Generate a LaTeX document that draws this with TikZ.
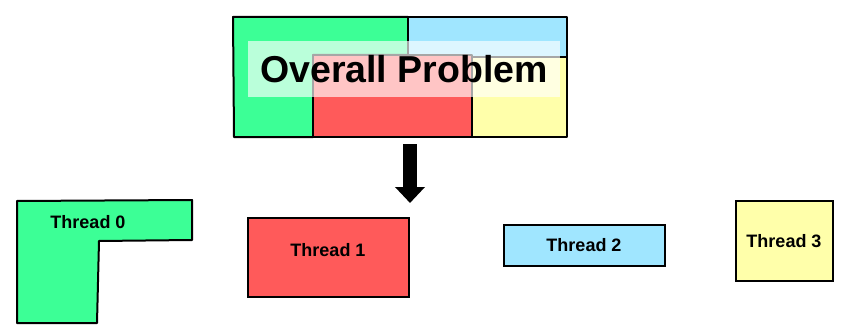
\documentclass[tikz,border=0pt]{standalone}
\usepackage{fontspec}
\setmainfont{Liberation Sans}
\usepackage{tikz}
\usetikzlibrary{arrows.meta}
\definecolor{tgreen}{RGB}{60,255,150}
\definecolor{tred}{RGB}{255,90,90}
\definecolor{tblue}{RGB}{160,230,255}
\definecolor{tyellow}{RGB}{255,255,170}
\tikzstyle{piece} = [draw=black, line width=2pt, line join=round]
\tikzstyle{thread} = [rectangle, 
draw=black, 
line width=2pt, 
text centered, 
font=\fontsize{18}{20}\selectfont\bfseries]
\tikzstyle{overlay} = [rectangle, 
fill=white, 
fill opacity=0.65, 
text opacity=1, 
minimum width=312pt, 
minimum height=56pt, 
font=\fontsize{37.5}{40}\selectfont\bfseries]
\tikzstyle{bigarrow} = [line width=14pt, -{Triangle[width=29pt,length=16pt]}]

\begin{document}
\begin{tikzpicture}[x=1pt, y=-1pt]
\useasboundingbox (0,0) rectangle (841,329);

% overall problem, cut in four pieces
\draw [piece, fill=tgreen] (233,17) -- (408,17) -- (408,55) -- (313,55) -- (313,137) -- (234,137) -- cycle;
\draw [piece, fill=tblue] (408,17) rectangle (567,57);
\draw [piece, fill=tred] (313,55) rectangle (472,137);
\draw [piece, fill=tyellow] (472,57) rectangle (567,137);
\node (prob) [overlay] at (404,69) {Overall Problem};

% arrow down
\coordinate (arrtop) at (410,144);
\coordinate (arrtip) at (410,203);
\draw [bigarrow] (arrtop) -- (arrtip);

% the threads
\draw [piece, fill=tgreen] (17,201) -- (192,200) -- (192,240) -- (99,241) -- (97,323) -- (17,323) -- cycle;
\node (t0) [font=\fontsize{18}{20}\selectfont\bfseries] at (88,222) {Thread 0};
\node (t1) [thread, fill=tred, minimum width=161pt, minimum height=79pt, text depth=14pt] at (328,257) {Thread 1};
\node (t2) [thread, fill=tblue, minimum width=161pt, minimum height=41pt] at (584,245) {Thread 2};
\node (t3) [thread, fill=tyellow, minimum width=97pt, minimum height=80pt] at (784,241) {Thread 3};

\end{tikzpicture}
\end{document}
